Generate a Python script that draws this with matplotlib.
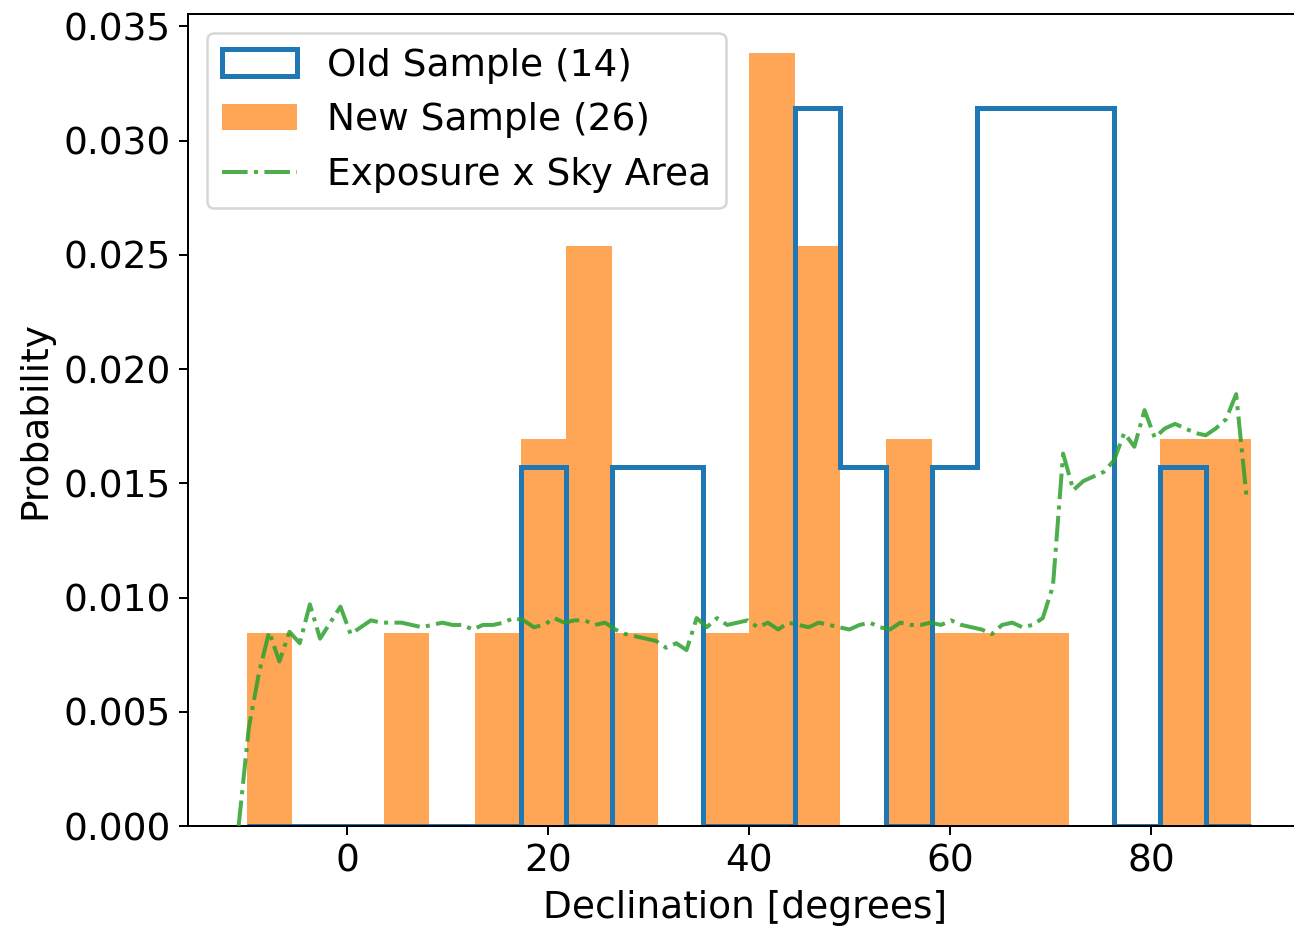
import numpy as np
import matplotlib
matplotlib.use("Agg")
import matplotlib.pyplot as plt

# Histogram bins (22 equal bins from -10 to 90 degrees)
bin_edges = np.linspace(-10, 90, 23)
bin_centers = 0.5 * (bin_edges[:-1] + bin_edges[1:])

# Counts per bin
old_counts = [0, 0, 0, 0, 0, 0, 1, 0, 1, 1, 0, 0, 2, 1, 0, 1, 2, 2, 2, 0, 1, 0]
new_counts = [1, 0, 0, 1, 0, 1, 2, 3, 1, 0, 1, 4, 3, 0, 2, 1, 1, 1, 0, 0, 2, 2]

# Exposure x Sky Area curve
exp_dec = np.linspace(-10.8, 89.5, 100)
exp_val = [
    0.0000, 0.0043, 0.0067, 0.0085, 0.0072, 0.0085, 0.0080, 0.0097, 0.0082, 0.0089,
    0.0096, 0.0084, 0.0087, 0.0090, 0.0089, 0.0089, 0.0089, 0.0088, 0.0087, 0.0088,
    0.0089, 0.0088, 0.0088, 0.0086, 0.0088, 0.0088, 0.0089, 0.0091, 0.0090, 0.0087,
    0.0088, 0.0091, 0.0089, 0.0090, 0.0090, 0.0088, 0.0089, 0.0086, 0.0084, 0.0083,
    0.0082, 0.0081, 0.0078, 0.0080, 0.0077, 0.0091, 0.0087, 0.0091, 0.0088, 0.0089,
    0.0090, 0.0087, 0.0089, 0.0086, 0.0089, 0.0088, 0.0087, 0.0089, 0.0088, 0.0087,
    0.0086, 0.0088, 0.0089, 0.0087, 0.0086, 0.0089, 0.0088, 0.0088, 0.0089, 0.0088,
    0.0090, 0.0088, 0.0087, 0.0086, 0.0084, 0.0088, 0.0089, 0.0087, 0.0088, 0.0091,
    0.0105, 0.0163, 0.0147, 0.0151, 0.0153, 0.0155, 0.0160, 0.0172, 0.0166, 0.0182,
    0.0170, 0.0174, 0.0176, 0.0174, 0.0172, 0.0171, 0.0174, 0.0178, 0.0189, 0.0145,
]

labels = ["Old Sample (14)", "New Sample (26)", "Exposure x Sky Area"]

plt.rcParams["font.family"] = ["DejaVu Sans"]
plt.rcParams["font.size"] = 15

fig = plt.figure(figsize=(1294 / 180, 927 / 180), dpi=180)
ax = fig.add_axes([188 / 1294, 101 / 927, 1114 / 1294, 812 / 927])

ax.hist(bin_centers, bins=bin_edges, weights=old_counts, density=True,
        histtype="step", color="C0", lw=2, zorder=2, label=labels[0])
ax.hist(bin_centers, bins=bin_edges, weights=new_counts, density=True,
        color="C1", alpha=0.7, zorder=1, label=labels[1])
ax.plot(exp_dec, exp_val, "-.", color="C2", alpha=0.85, lw=1.6, zorder=3,
        label=labels[2])

ax.set_xlabel("Declination [degrees]")
ax.set_ylabel("Probability")
ax.set_xticks([0, 20, 40, 60, 80])
ax.legend(loc="upper left")

fig.savefig("out.png", dpi=180)
